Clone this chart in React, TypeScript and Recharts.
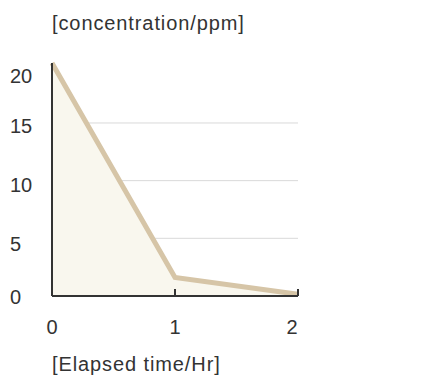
import { ComposedChart, Area, XAxis, YAxis, CartesianGrid } from 'recharts';

const hours = [0, 1, 2];
const ppm = [20.2, 1.6, 0.15];
const yTicks = [0, 5, 10, 15, 20];

const data = hours.map((h, i) => ({ h, ppm: ppm[i] }));

const font = '"Liberation Sans", Arial, sans-serif';
const ink = '#333';

// label nudges to match the original's uneven placement
const yLabelDy: Record<number, number> = { 0: 8, 5: 13, 10: 11, 15: 10, 20: 18 };

function XTick(props: any) {
  const { x, y, payload } = props;
  const dx = payload.value === 2 ? -6 : 0;
  return (
    <g>
      {payload.value !== 0 && (
        <line x1={x} x2={x} y1={y} y2={y - 7} stroke={ink} strokeWidth={2} />
      )}
      <text x={x + dx} y={y + 38} textAnchor="middle" fontSize={20} fill={ink} fontFamily={font}>
        {payload.value}
      </text>
    </g>
  );
}

function YTick(props: any) {
  const { y, payload } = props;
  return (
    <text x={10} y={y + (yLabelDy[payload.value] ?? 8)} textAnchor="start" fontSize={20} fill={ink} fontFamily={font}>
      {payload.value}
    </text>
  );
}

export default function App() {
  return (
    <div style={{ position: 'absolute', left: 0, top: 0, width: 431, height: 382, background: '#fff' }}>
      <ComposedChart
        width={431}
        height={382}
        data={data}
        margin={{ top: 63, right: 133, bottom: 0, left: 10 }}
      >
        <CartesianGrid vertical={false} horizontalValues={[5, 10, 15]} stroke="#d9d9d9" />
        <XAxis
          dataKey="h"
          type="number"
          domain={[0, 2]}
          ticks={hours}
          height={86}
          tickSize={0}
          tickMargin={0}
          tickLine={false}
          tick={<XTick />}
          axisLine={{ stroke: ink, strokeWidth: 2 }}
        />
        <YAxis
          type="number"
          domain={[0, 20]}
          ticks={yTicks}
          width={42}
          tickSize={0}
          tickLine={false}
          tick={<YTick />}
          axisLine={{ stroke: ink, strokeWidth: 2 }}
        />
        <Area
          type="linear"
          dataKey="ppm"
          stroke="#d6c5a7"
          strokeWidth={5}
          fill="#f9f7ee"
          fillOpacity={1}
          isAnimationActive={false}
          dot={false}
          activeDot={false}
        />
        <text x={52} y={30} fontSize={20} letterSpacing={0.9} fill={ink} fontFamily={font}>
          [concentration/ppm]
        </text>
        <text x={52} y={371} fontSize={20} letterSpacing={0.9} fill={ink} fontFamily={font}>
          [Elapsed time/Hr]
        </text>
      </ComposedChart>
    </div>
  );
}
